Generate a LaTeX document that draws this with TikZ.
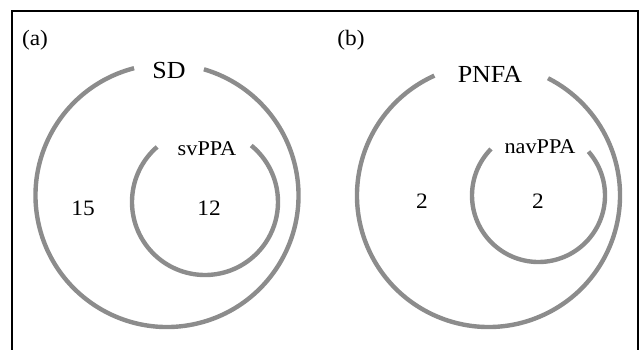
\documentclass[tikz,border=0pt]{standalone}
\usepackage{fontspec}
\setmainfont[FakeStretch=1.06]{Liberation Serif}
\begin{document}
\begin{tikzpicture}[x=1pt,y=1pt,
  ring/.style={draw=black!45,line width=4.4pt},
  big/.style={font=\fontsize{24.5}{26}\selectfont,inner sep=0pt,anchor=base},
  small/.style={font=\fontsize{21}{23}\selectfont,inner sep=0pt,anchor=base},
  num/.style={font=\fontsize{22}{24}\selectfont,inner sep=0pt,anchor=base},
  tag/.style={font=\fontsize{22}{24}\selectfont,inner sep=0pt}]
\useasboundingbox (0,0) rectangle (644,349);
% frame
\draw[line width=1.8pt] (12,-3) -- (12,338) -- (638,338) -- (638,-3);
% panel (a)
\coordinate (ca) at (167,153.5);
\coordinate (cai) at (205,147);
\draw[ring] ([shift={(104.5:131.5)}]ca) arc[start angle=104.5,end angle=433.7,radius=131.5];
\draw[ring] ([shift={(131:73)}]cai) arc[start angle=131,end angle=410.7,radius=73];
\node[tag] (la) at (35,309) {(a)};
\node[big] (sd) at (169,271) {SD};
\node[small] (sv) at (207,194) {svPPA};
\node[num] (n15) at (83,134) {15};
\node[num] (n12) at (209,134) {12};
% panel (b)
\coordinate (cb) at (488.5,153.5);
\coordinate (cbi) at (538.5,153.5);
\draw[ring] ([shift={(114.3:131.5)}]cb) arc[start angle=114.3,end angle=423.1,radius=131.5];
\draw[ring] ([shift={(135.6:66.5)}]cbi) arc[start angle=135.6,end angle=401.3,radius=66.5];
\node[tag] (lb) at (351,309) {(b)};
\node[big] (pn) at (490,267) {PNFA};
\node[small] (nav) at (540,196) {navPPA};
\node[num] (n2a) at (422,141) {2};
\node[num] (n2b) at (538,141) {2};
\end{tikzpicture}
\end{document}
